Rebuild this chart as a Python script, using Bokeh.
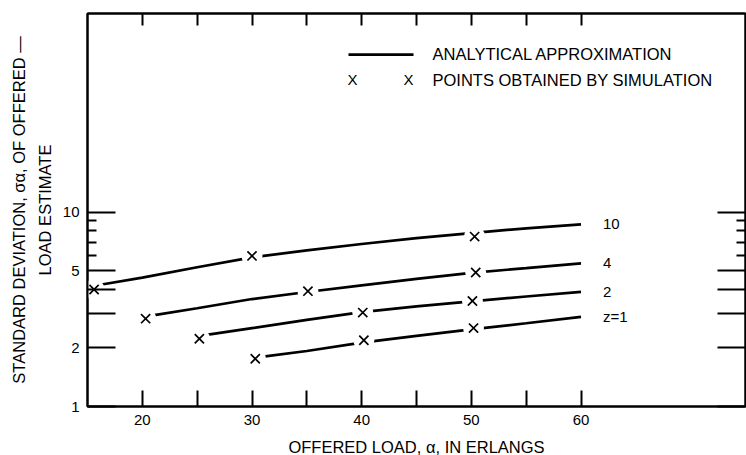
from bokeh.plotting import figure
from bokeh.models import (LogAxis, LinearAxis, FixedTicker, Range1d, Label,
                          BoxAnnotation, CustomLabelingPolicy)
from bokeh.core.properties import value
from bokeh.embed import file_html
from bokeh.resources import INLINE

FONT = "Liberation Sans"

# ---------------- data ----------------
curve_labels = ["10", "4", "2", "z=1"]

load_z10 = [16.3, 20, 25, 30, 35, 40, 45, 50, 55, 60]
sd_z10 = [4.24, 4.6, 5.2, 5.85, 6.35, 6.85, 7.35, 7.8, 8.25, 8.65]
load_z4 = [21.1, 25, 30, 35, 40, 45, 50, 55, 60]
sd_z4 = [2.95, 3.2, 3.57, 3.88, 4.2, 4.53, 4.87, 5.15, 5.45]
load_z2 = [26.0, 30, 35, 40, 45, 50, 55, 60]
sd_z2 = [2.34, 2.53, 2.79, 3.06, 3.27, 3.47, 3.68, 3.89]
load_z1 = [31.2, 35, 40, 45, 50, 55, 60]
sd_z1 = [1.81, 1.93, 2.13, 2.31, 2.49, 2.68, 2.89]

sim_load_z10 = [15.6, 30.0, 50.3]
sim_sd_z10 = [4.0, 5.95, 7.48]
sim_load_z4 = [20.3, 35.1, 50.4]
sim_sd_z4 = [2.83, 3.92, 4.89]
sim_load_z2 = [25.2, 40.1, 50.1]
sim_sd_z2 = [2.23, 3.04, 3.49]
sim_load_z1 = [30.3, 40.2, 50.2]
sim_sd_z1 = [1.76, 2.19, 2.53]

x_major = [20, 30, 40, 50, 60]
x_minor = [25, 35, 45, 55]
x_all = [20, 25, 30, 35, 40, 45, 50, 55, 60]
y_major = [1, 2, 3, 4, 5, 10]
y_minor = [6, 7, 8, 9]
y_label_index = [0, 1, 4, 5]   # labels shown: 1, 2, 5, 10

legend_line_text = "ANALYTICAL APPROXIMATION"
legend_point_text = "POINTS OBTAINED BY SIMULATION"
x_title = "OFFERED LOAD, \u03b1, IN ERLANGS"
y_title = "STANDARD DEVIATION, \u03c3\u03b1, OF OFFERED \u2014\nLOAD ESTIMATE"

TITLE_SIZE = "16.5px"
NUM_SIZE = "15px"

# ---------------- figure ----------------
p = figure(frame_width=658, frame_height=393, y_axis_type="log",
           x_range=Range1d(15, 75), y_range=Range1d(1, 105),
           output_backend="svg", toolbar_location=None,
           min_border_left=87, min_border_right=0, min_border_top=12,
           min_border_bottom=50)
p.xgrid.visible = False
p.ygrid.visible = False
p.outline_line_color = "black"
p.outline_line_width = 2
p.background_fill_color = "white"
p.border_fill_color = "white"


def style_axis(ax, tick_in, minor_in):
    ax.axis_line_width = 2
    ax.axis_line_color = "black"
    ax.major_tick_in = tick_in
    ax.major_tick_out = 0
    ax.minor_tick_in = minor_in
    ax.minor_tick_out = 0
    ax.major_tick_line_width = 2
    ax.minor_tick_line_width = 2
    ax.major_tick_line_color = "black"
    ax.minor_tick_line_color = "black"
    ax.major_label_text_font = FONT
    ax.major_label_text_font_size = NUM_SIZE
    ax.major_label_text_color = "black"
    ax.axis_label_text_font = FONT
    ax.axis_label_text_font_size = TITLE_SIZE
    ax.axis_label_text_font_style = "normal"
    ax.axis_label_text_color = "black"


def hide_labels(ax):
    ax.major_label_policy = CustomLabelingPolicy(code="return []")
    ax.major_label_standoff = 0


# bottom axis
xa = p.xaxis[0]
xa.ticker = FixedTicker(ticks=x_major, minor_ticks=x_minor)
style_axis(xa, 16, 16)
xa.major_label_standoff = 8
xa.axis_label = x_title
xa.axis_label_standoff = 10

# left axis
ya = p.yaxis[0]
ya.ticker = FixedTicker(ticks=y_major, minor_ticks=y_minor)
style_axis(ya, 28, 9)
ya.major_label_policy = CustomLabelingPolicy(
    code="return idx", args=dict(idx=y_label_index))
ya.major_label_standoff = 8
ya.axis_label = y_title
ya.axis_label_standoff = 6
ya.axis_label_text_line_height = 1.45

# top axis
ta = LinearAxis(ticker=FixedTicker(ticks=x_all, minor_ticks=[]))
style_axis(ta, 12, 0)
hide_labels(ta)
p.add_layout(ta, "above")

# right axis
ra = LogAxis(ticker=FixedTicker(ticks=y_major, minor_ticks=y_minor))
style_axis(ra, 28, 9)
hide_labels(ra)
p.add_layout(ra, "right")

# ---------------- curves ----------------
curves = [(load_z10, sd_z10), (load_z4, sd_z4), (load_z2, sd_z2), (load_z1, sd_z1)]
sims = [(sim_load_z10, sim_sd_z10), (sim_load_z4, sim_sd_z4),
        (sim_load_z2, sim_sd_z2), (sim_load_z1, sim_sd_z1)]

for lx, ly in curves:
    p.line(lx, ly, line_color="black", line_width=2.7)

for sx, sy in sims:
    p.scatter(sx, sy, marker="circle", size=21, fill_color="white",
              line_color=None)
for sx, sy in sims:
    p.scatter(sx, sy, marker="x", size=13, line_color="black", line_width=1.7)

p.text(x=[c[0][-1] for c in curves], y=[c[1][-1] for c in curves],
       text=curve_labels, x_offset=22, text_align="left",
       text_baseline="middle", text_font=value(FONT),
       text_font_size=NUM_SIZE, text_color="black")

# ---------------- legend (screen units, relative to the frame) ----------------
p.add_layout(BoxAnnotation(left=261, right=326, bottom=350.5, top=353.2,
                           left_units="screen", right_units="screen",
                           bottom_units="screen", top_units="screen",
                           fill_color="black", fill_alpha=1, line_color=None))
for lx in (265, 321):
    p.add_layout(Label(x=lx, y=327, x_units="screen", y_units="screen",
                       text="X", text_align="center", text_baseline="middle",
                       text_font=FONT, text_font_size=NUM_SIZE,
                       text_color="black"))
p.add_layout(Label(x=345, y=353, x_units="screen", y_units="screen",
                   text=legend_line_text, text_align="left",
                   text_baseline="middle", text_font=FONT,
                   text_font_size=TITLE_SIZE, text_color="black"))
p.add_layout(Label(x=345, y=327, x_units="screen", y_units="screen",
                   text=legend_point_text, text_align="left",
                   text_baseline="middle", text_font=FONT,
                   text_font_size=TITLE_SIZE, text_color="black"))

open("out.html", "w").write(file_html(p, INLINE))
